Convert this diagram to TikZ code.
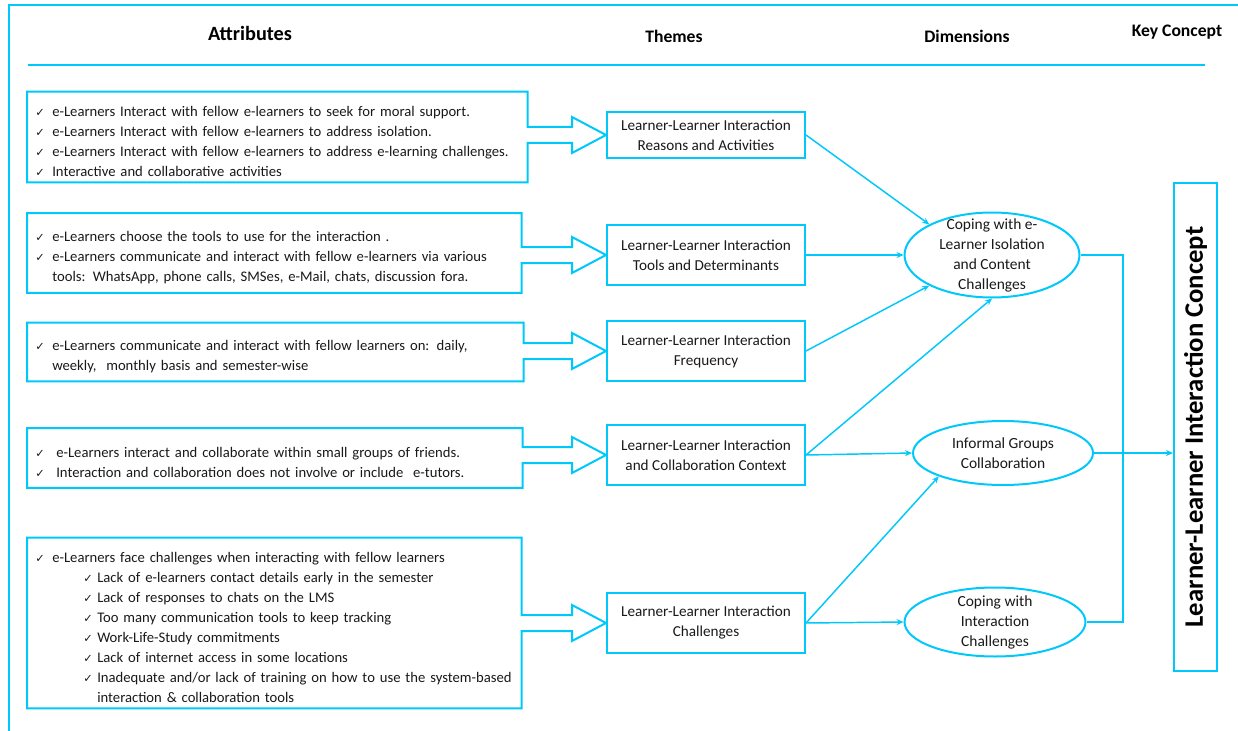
\documentclass[tikz,border=0pt]{standalone}
\usepackage{fontspec}
\setmainfont{Carlito}
\newfontfamily\tickfont{DejaVu Sans}
\usepackage{tikz}
\usetikzlibrary{positioning, arrows.meta, shapes.geometric, calc}
\definecolor{skyline}{RGB}{0,200,250}
\definecolor{inkdark}{RGB}{25,25,25}
\newdimen\pxu \pxu=0.75pt
\newcommand{\chk}{{\tickfont\fontsize{8.5}{8}\selectfont ✓}}
\newcommand{\tick}[1]{\par\hangindent=17\pxu\hangafter=1\noindent\makebox[17\pxu][l]{\chk}#1\par}
\newcommand{\subtick}[1]{\par\hangindent=62\pxu\hangafter=1\noindent\hspace*{48\pxu}\makebox[14\pxu][l]{\chk}#1\par}
\newcommand{\callout}[2]{%
  \draw[calloutline] (#1.north west) -- (#1.north east)
    -- ($(#1.east |- #2.west)+(0,-8)$) -- ($(#2.west)+(-34,-8)$)
    -- ($(#2.west)+(-34,-18)$) -- (#2.west) -- ($(#2.west)+(-34,18)$)
    -- ($(#2.west)+(-34,8)$) -- ($(#1.east |- #2.west)+(0,8)$)
    -- (#1.south east) -- (#1.south west) -- cycle;}
\tikzset{
  attr/.style={
    anchor=west, inner xsep=8\pxu, inner ysep=0pt, align=left,
    text=inkdark, font=\fontsize{11}{15}\selectfont
  },
  theme/.style={
    draw=skyline, line width=1.5pt, minimum width=198\pxu,
    minimum height=60\pxu, align=center, inner sep=2pt,
    text=inkdark, font=\fontsize{11.4}{15}\selectfont
  },
  dimen/.style={ellipse, draw=skyline, line width=1.5pt, inner sep=0pt},
  dimtext/.style={align=center, text=inkdark, font=\fontsize{11.6}{15}\selectfont},
  calloutline/.style={draw=skyline, line width=1.5pt, line join=miter},
  arrow/.style={-{Stealth[length=5.2pt, width=4.5pt]}, skyline, line width=1.1pt},
  link/.style={skyline, line width=1.1pt},
  frame/.style={skyline, line width=1.5pt},
  head/.style={text=black, font=\bfseries\fontsize{13.2}{15}\selectfont}
}

\begin{document}
\begin{tikzpicture}[x=0.75pt, y=-0.75pt]
  \useasboundingbox (0,0) rectangle (1238,731);
  \draw[frame] (8,5) -- (1238,5);
  \draw[frame] (9,5) -- (9,731);
  \draw[frame] (28,65) -- (1205,65);

  \node[head, font=\bfseries\fontsize{15.2}{17}\selectfont] (hattr) at (250,33) {Attributes};
  \node[head] (htheme) at (674,36) {Themes};
  \node[head] (hdim) at (967,36) {Dimensions};
  \node[head] (hkey) at (1177,32) {Key Concept};

  \node[theme, minimum height=46\pxu] (t1) at (706,135) {Learner-Learner Interaction\\Reasons and Activities};
  \node[theme] (t2) at (706,255) {Learner-Learner Interaction\\Tools and Determinants};
  \node[theme] (t3) at (706,351) {Learner-Learner Interaction\\Frequency};
  \node[theme] (t4) at (706,455) {Learner-Learner Interaction\\and Collaboration Context};
  \node[theme] (t5) at (706,623) {Learner-Learner Interaction\\Challenges};

  \node[attr, text width=484\pxu, minimum height=90\pxu] (a1) at (27,137) {%
    \tick{e-Learners Interact with fellow e-learners to seek for moral support.}
    \tick{e-Learners Interact with fellow e-learners to address isolation.}
    \tick{e-Learners Interact with fellow e-learners to address e-learning challenges.}
    \tick{Interactive and collaborative activities}};
  \node[attr, text width=478\pxu, minimum height=79\pxu] (a2) at (27,253) {%
    \tick{e-Learners choose the tools to use for the interaction .}
    \tick{e-Learners communicate and interact with fellow e-learners via various\newline tools: WhatsApp, phone calls, SMSes, e-Mail, chats, discussion fora.}};
  \node[attr, text width=480\pxu, minimum height=58\pxu] (a3) at (27,352) {%
    \tick{e-Learners communicate and interact with fellow learners on: daily,\newline weekly,\ \ monthly basis and semester-wise}};
  \node[attr, text width=479\pxu, minimum height=59\pxu] (a4) at (27,458) {%
    \tick{\hspace*{4\pxu}e-Learners interact and collaborate within small groups of friends.}
    \tick{\hspace*{4\pxu}Interaction and collaboration does not involve or include\ \ e-tutors.}};
  \node[attr, text width=478\pxu, minimum height=170\pxu] (a5) at (27,623) {%
    \tick{e-Learners face challenges when interacting with fellow learners}
    \subtick{Lack of e-learners contact details early in the semester}
    \subtick{Lack of responses to chats on the LMS}
    \subtick{Too many communication tools to keep tracking}
    \subtick{Work-Life-Study commitments}
    \subtick{Lack of internet access in some locations}
    \subtick{Inadequate and/or lack of training on how to use the system-based\newline interaction \& collaboration tools}};

  \callout{a1}{t1}
  \callout{a2}{t2}
  \callout{a3}{t3}
  \callout{a4}{t4}
  \callout{a5}{t5}

  \node[dimen, minimum width=175\pxu, minimum height=85\pxu,
    label={[dimtext]center:Coping with e-\\Learner Isolation\\and Content\\Challenges}] (e1) at (992,255) {};
  \node[dimen, minimum width=180\pxu, minimum height=64\pxu,
    label={[dimtext]center:Informal Groups\\Collaboration}] (e2) at (1003,453) {};
  \node[dimen, minimum width=181\pxu, minimum height=69\pxu,
    label={[dimtext]center:Coping with\\Interaction\\Challenges}] (e3) at (995,622) {};

  \node[draw=skyline, line width=1.5pt, rotate=90, minimum width=488\pxu, minimum height=43\pxu,
    text=black, font=\bfseries\fontsize{20}{22}\selectfont] (kc) at (1195.5,427) {Learner-Learner Interaction Concept};

  \draw[arrow] (t1.east) -- (e1.154);
  \draw[arrow] (t2.east) -- (e1.west);
  \draw[arrow] (t3.east) -- (e1.206);
  \draw[arrow] (t4.east) -- (e1.south);
  \draw[arrow] (t4.east) -- (e2.west);
  \draw[arrow] (t5.east) -- (e2.200);
  \draw[arrow] (t5.east) -- (e3.west);
  \draw[arrow] (e2.east) -- (e2.east -| kc.north);
  \coordinate (bus) at (1123,0);
  \draw[link] (e1.east) -- (e1.east -| bus) -- (e3.east -| bus) -- (e3.east);
\end{tikzpicture}
\end{document}
